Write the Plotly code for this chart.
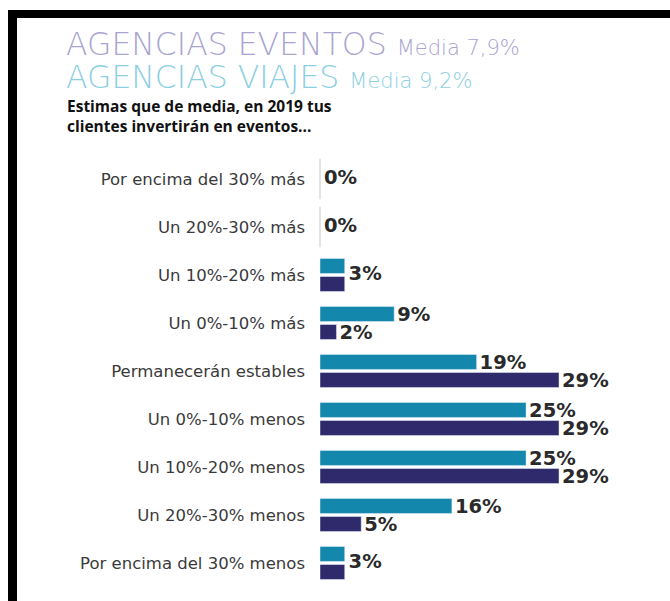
import plotly.graph_objects as go

# ---- data ----
categories = [
    "Por encima del 30% más",
    "Un 20%-30% más",
    "Un 10%-20% más",
    "Un 0%-10% más",
    "Permanecerán estables",
    "Un 0%-10% menos",
    "Un 10%-20% menos",
    "Un 20%-30% menos",
    "Por encima del 30% menos",
]
viajes = [0, 0, 3, 9, 19, 25, 25, 16, 3]    # Agencias viajes (teal)
eventos = [0, 0, 3, 2, 29, 29, 29, 5, 3]    # Agencias eventos (navy)

TEAL = "#1487ad"
NAVY = "#2e2a6c"
W, H = 670, 601
ML, MR, MT, MB = 320, 10, 155, 14
PW, PH = W - ML - MR, H - MT - MB


def px(x):
    return (x - ML) / PW


def py(y):
    return (H - MB - y) / PH


lab_font = dict(family="DejaVu Sans", size=19.5, color="#2a2a2a", weight=700)


def lab(vals, other):
    return [f"{v}%" if v != o else "" for v, o in zip(vals, other)]


fig = go.Figure()
fig.add_trace(go.Bar(
    y=categories, x=viajes, orientation="h", name="Agencias viajes",
    marker=dict(color=TEAL), offsetgroup="v",
    text=lab(viajes, eventos), textposition="outside", constraintext="none",
    textfont=lab_font, cliponaxis=False,
))
fig.add_trace(go.Bar(
    y=categories, x=eventos, orientation="h", name="Agencias eventos",
    marker=dict(color=NAVY), offsetgroup="e",
    text=lab(eventos, viajes), textposition="outside", constraintext="none",
    textfont=lab_font, cliponaxis=False,
))

# zero markers (light grey ticks) for rows with zero values
for vals, grp in ((viajes, "v"), (eventos, "e")):
    zy = [c for c, v in zip(categories, vals) if v == 0]
    fig.add_trace(go.Scatter(
        x=[0] * len(zy), y=zy, mode="markers", orientation="h", offsetgroup=grp,
        marker=dict(symbol="line-ns", size=16, line=dict(width=2, color="#e3e3e3")),
        hoverinfo="skip", cliponaxis=False,
    ))

# single labels where both series are equal
eq_y = [c for c, a, b in zip(categories, viajes, eventos) if a == b]
eq_x = [a for a, b in zip(viajes, eventos) if a == b]
fig.add_trace(go.Scatter(
    x=eq_x, y=eq_y, mode="text", text=[f"\u2009{v}%" for v in eq_x],
    textposition="middle right", textfont=lab_font, cliponaxis=False,
    hoverinfo="skip",
))

annotations = [
    dict(x=px(64), y=py(44), xref="paper", yref="paper", xanchor="left", yanchor="middle",
         showarrow=False, align="left",
         text="AGENCIAS EVENTOS <span style='font-size:21px'>Media 7,9%</span>",
         font=dict(family="DejaVu Sans", color="#a9a4d0", size=31.5, weight=200)),
    dict(x=px(64), y=py(77), xref="paper", yref="paper", xanchor="left", yanchor="middle",
         showarrow=False, align="left",
         text="AGENCIAS VIAJES <span style='font-size:21px'>Media 9,2%</span>",
         font=dict(family="DejaVu Sans", color="#8ccfe2", size=31.5, weight=200)),
    dict(x=px(65), y=py(116), xref="paper", yref="paper", xanchor="left", yanchor="middle",
         showarrow=False, align="left",
         text="Estimas que de media, en 2019 tus<br>clientes invertirán en eventos...",
         font=dict(family="Open Sans", color="#111111", size=15.5, weight=700)),
]

shapes = [
    dict(type="rect", xref="paper", yref="paper", x0=px(8), x1=px(680), y0=py(18), y1=py(10),
         fillcolor="black", line=dict(width=0), layer="above"),
    dict(type="rect", xref="paper", yref="paper", x0=px(8), x1=px(17), y0=py(610), y1=py(10),
         fillcolor="black", line=dict(width=0), layer="above"),
]

fig.update_layout(
    width=W, height=H,
    margin=dict(l=ML, r=MR, t=MT, b=MB, autoexpand=False),
    paper_bgcolor="white", plot_bgcolor="white",
    barmode="group", bargap=0.25, bargroupgap=0.17,
    scattermode="group", scattergap=0.25,
    showlegend=False,
    xaxis=dict(range=[0, 41.25], visible=False, automargin=False),
    yaxis=dict(autorange="reversed", showgrid=False, showline=False, zeroline=False,
               ticks="", ticklabelstandoff=14, automargin=False,
               tickfont=dict(family="DejaVu Sans", size=16.5, color="#3a3a3a")),
    annotations=annotations, shapes=shapes,
)

fig.write_html(
    "out.html",
    config={"displayModeBar": False},
    post_script="document.body.style.margin='0';document.body.style.overflow='hidden';",
)
